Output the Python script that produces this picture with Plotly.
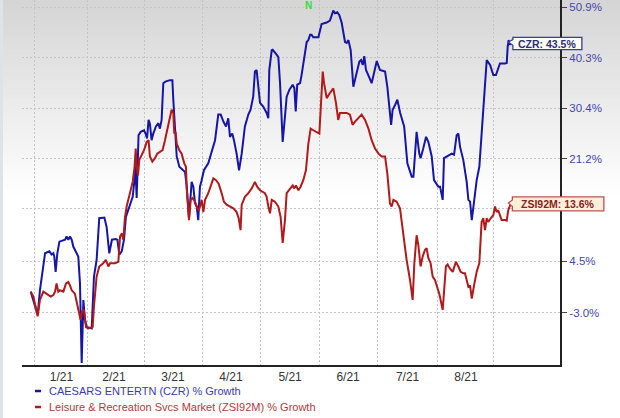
import math
import pandas as pd
import plotly.graph_objects as go

# ---------------- data (day offset from 2021-01-01, % growth) ----------------
czr_name = "CAESARS ENTERTN (CZR) % Growth"
czr_day = [-1.9, 1.8, 3.0, 5.7, 8.0, 9.2, 10.1, 10.6, 11.3, 12.2,
           13.3, 16.3, 17.1, 18.0, 18.9, 19.8, 20.7, 23.3, 24.2, 25.1,
           26.0, 26.8, 27.7, 30.4, 31.6, 33.0, 34.4, 37.1, 38.3, 39.7,
           41.1, 43.1, 44.0, 45.0, 46.3, 47.5, 48.5, 49.2, 51.0, 52.1,
           53.0, 53.5, 54.2, 54.7, 55.2, 56.3, 58.1, 58.9, 59.7, 60.5,
           61.2, 62.1, 63.0, 64.4, 65.7, 66.5, 67.4, 68.3, 69.4, 71.8,
           73.1, 73.6, 74.5, 75.4, 76.8, 79.8, 80.7, 81.9, 83.3, 84.2,
           85.1, 86.0, 86.8, 87.7, 88.6, 89.8, 92.1, 93.9, 95.7, 97.4,
           98.7, 100.1, 101.5, 102.7, 103.6, 104.8, 105.7, 107.1, 108.4, 109.8,
           111.5, 113.3, 114.5, 115.9, 116.8, 117.7, 118.6, 119.5, 121.2, 123.0,
           123.9, 124.4, 125.7, 126.2, 127.9, 129.2, 130.1, 131.0, 131.5, 132.7,
           133.6, 135.0, 136.8, 137.7, 138.4, 139.2, 140.7, 141.5, 142.4, 143.3,
           144.2, 145.1, 146.0, 146.8, 147.7, 150.4, 151.3, 152.1, 154.8, 156.5,
           157.4, 158.3, 159.2, 160.4, 161.5, 162.7, 164.5, 165.4, 166.3, 167.5,
           168.9, 169.8, 170.7, 172.1, 173.0, 173.9, 174.7, 175.6, 176.8, 178.6,
           181.3, 183.0, 185.7, 186.9, 188.9, 189.7, 191.0, 192.2, 193.7, 195.8,
           197.5, 199.8, 200.7, 202.4, 203.8, 204.5, 205.9, 207.4, 208.6, 210.4,
           211.6, 213.9, 214.8, 216.2, 216.9, 218.3, 221.0, 222.2, 223.6, 224.5,
           225.4, 227.1, 228.9, 229.8, 230.7, 231.6, 232.8, 234.2, 235.6, 236.5,
           237.7, 238.6, 239.5, 241.3, 243.0, 244.4, 245.7, 246.5, 249.2, 250.1,
           250.6, 251.1, 251.7, 252.3]
czr_pct = [0.0, -3.3, 0.2, 5.7, 6.0, 5.5, 5.7, 5.2, 2.9, 5.7,
           7.5, 7.8, 8.3, 7.8, 8.3, 7.8, 6.7, 5.2, 1.2, -9.8,
           -1.2, -4.0, -5.0, -5.2, 2.2, 4.7, 11.2, 11.3, 9.8, 5.7,
           7.8, 7.9, 7.8, 5.5, 6.0, 7.8, 11.4, 12.0, 13.6, 14.7,
           17.5, 19.8, 14.5, 19.8, 25.4, 26.0, 26.3, 25.7, 24.8, 28.2,
           27.5, 24.5, 25.7, 27.0, 27.6, 26.6, 28.2, 35.2, 35.5, 35.8,
           35.8, 32.0, 26.3, 21.6, 19.8, 18.9, 16.4, 11.2, 17.2, 16.4,
           13.6, 13.1, 10.9, 16.4, 17.5, 19.2, 20.4, 22.4, 24.5, 29.2,
           29.2, 27.9, 27.0, 28.5, 25.1, 25.7, 24.5, 22.1, 19.2, 22.1,
           27.0, 29.2, 30.1, 32.6, 37.5, 37.8, 34.5, 31.4, 30.7, 29.5,
           28.5, 37.8, 41.8, 41.9, 41.1, 40.4, 35.2, 26.0, 24.2, 28.8,
           32.6, 33.9, 34.9, 34.2, 29.8, 34.9, 35.2, 36.8, 39.1, 41.1,
           43.5, 43.9, 45.0, 45.0, 44.5, 44.5, 45.9, 47.3, 47.6, 48.0,
           49.1, 50.2, 49.6, 49.8, 49.2, 47.6, 43.5, 43.3, 43.9, 41.8,
           34.5, 35.8, 37.5, 39.5, 39.8, 38.8, 40.6, 37.8, 36.8, 35.2,
           39.6, 37.8, 37.5, 34.5, 27.3, 30.1, 31.0, 32.0, 29.5, 27.0,
           20.4, 18.1, 18.1, 26.0, 22.1, 21.3, 23.0, 25.1, 24.2, 21.6,
           17.5, 16.4, 16.4, 14.2, 21.3, 21.6, 22.1, 21.9, 25.4, 25.7,
           23.3, 21.0, 17.2, 14.2, 13.9, 10.9, 13.9, 17.5, 19.8, 23.9,
           30.1, 33.9, 39.8, 38.8, 36.8, 36.8, 38.5, 39.1, 39.1, 39.2,
           42.5, 43.9, 42.9, 43.5]

zsi_name = "Leisure & Recreation Svcs Market (ZSI92M) % Growth"
zsi_day = [-1.9, -0.5, 1.8, 3.0, 4.8, 6.5, 8.7, 10.1, 11.0, 11.8,
           12.7, 13.6, 15.4, 16.8, 18.0, 18.9, 19.8, 21.5, 22.4, 23.8,
           24.5, 25.3, 26.3, 27.4, 28.6, 30.9, 31.6, 33.0, 34.4, 36.5,
           37.9, 39.2, 40.1, 42.7, 44.5, 45.4, 46.4, 47.1, 48.0, 48.9,
           50.7, 52.1, 53.1, 53.7, 54.2, 54.9, 55.6, 56.8, 58.1, 59.5,
           60.5, 61.2, 62.5, 63.9, 65.1, 66.5, 67.9, 69.2, 70.4, 71.8,
           72.7, 73.6, 74.1, 74.8, 75.4, 76.8, 78.0, 79.4, 80.3, 80.7,
           81.2, 81.9, 82.8, 83.8, 85.1, 86.3, 87.2, 88.6, 89.5, 90.4,
           92.1, 93.4, 94.8, 96.2, 97.6, 99.2, 100.4, 101.8, 103.6, 105.4,
           107.1, 108.2, 109.2, 109.8, 111.5, 113.3, 115.1, 116.8, 118.0, 119.5,
           122.1, 123.0, 123.9, 124.8, 125.7, 127.4, 129.2, 130.4, 131.5, 132.7,
           133.6, 135.0, 136.8, 137.5, 138.5, 139.8, 141.0, 142.4, 143.8, 145.1,
           146.3, 147.7, 149.5, 150.9, 151.6, 152.7, 153.4, 154.8, 156.5, 158.3,
           159.7, 160.9, 161.8, 163.6, 165.4, 167.1, 168.5, 169.8, 171.5, 173.3,
           175.1, 176.9, 178.6, 180.4, 182.2, 183.9, 185.7, 186.9, 188.3, 189.2,
           190.1, 191.8, 193.6, 195.0, 196.3, 197.1, 198.9, 200.3, 201.2, 202.4,
           203.3, 204.5, 205.6, 206.8, 207.7, 208.6, 209.8, 210.9, 212.1, 213.0,
           214.4, 216.2, 216.9, 217.9, 218.8, 220.0, 221.5, 223.2, 224.5, 225.7,
           227.1, 228.0, 228.9, 229.8, 230.7, 231.6, 232.8, 234.2, 235.6, 236.8,
           237.7, 238.6, 239.5, 240.3, 241.6, 243.0, 243.9, 244.8, 245.6, 246.5,
           247.4, 249.2, 250.1, 250.9, 251.8, 252.3]
zsi_pct = [0.0, -0.7, -3.5, -1.2, 0.0, -0.3, -0.7, -0.5, 0.0, 1.2,
           0.0, 0.2, 0.0, 1.2, 1.4, 0.9, 0.2, -0.3, -1.4, -2.8,
           -4.0, -2.8, -2.6, -5.0, -5.2, -5.0, -2.1, 2.2, 3.7, 4.2,
           4.7, 3.7, 4.2, 4.2, 4.4, 8.3, 8.8, 7.8, 11.3, 13.1,
           15.3, 17.2, 19.8, 23.0, 19.8, 18.3, 21.0, 21.8, 22.7, 24.2,
           24.5, 21.6, 20.7, 21.3, 22.1, 22.4, 22.7, 24.5, 26.6, 29.2,
           30.1, 29.5, 25.7, 26.0, 23.9, 22.7, 22.1, 20.4, 19.8, 16.1,
           13.1, 10.9, 14.2, 14.5, 13.9, 12.8, 12.5, 14.2, 12.2, 14.2,
           15.3, 16.4, 17.8, 17.5, 16.9, 15.3, 13.9, 13.4, 13.1, 12.8,
           12.2, 11.2, 9.3, 13.4, 14.7, 15.3, 16.1, 17.2, 16.4, 15.8,
           15.3, 14.7, 13.1, 12.0, 14.2, 13.9, 13.1, 11.4, 7.3, 10.9,
           15.3, 15.8, 16.6, 16.1, 16.6, 15.8, 16.4, 17.5, 19.2, 23.9,
           26.6, 26.3, 26.0, 25.7, 30.1, 37.5, 35.2, 32.3, 33.3, 34.2,
           31.4, 28.2, 29.5, 29.5, 29.5, 29.2, 27.3, 27.9, 28.5, 29.2,
           28.2, 26.6, 24.5, 23.0, 22.1, 21.6, 21.6, 18.6, 13.6, 13.1,
           14.2, 13.9, 12.8, 9.3, 6.2, 4.7, 1.7, -1.2, 4.2, 8.5,
           7.0, 3.7, 5.2, 6.2, 6.5, 5.0, 4.2, 2.2, 1.7, 0.9,
           -0.3, -2.6, 0.7, 3.7, 4.0, 3.4, 2.9, 4.4, 3.7, 2.9,
           2.7, 2.7, 1.7, 0.7, 0.9, -1.0, 0.9, 2.9, 4.2, 10.6,
           11.2, 9.3, 11.2, 10.6, 11.2, 11.7, 13.1, 12.2, 12.5, 11.7,
           10.9, 10.9, 10.8, 12.5, 13.3, 13.6]

month_labels = ["1/21", "2/21", "3/21", "4/21", "5/21", "6/21", "7/21", "8/21"]
month_label_day = [14.4, 42.2, 73.4, 104.1, 135.4, 166.1, 197.6, 228.5]
month_grid_day = [0, 28.3, 58.1, 88.9, 120.0, 150.9, 181.8, 213.6, 243.0]
y_tick_pct = [-3.0, 4.5, 12.7, 21.2, 30.4, 40.3, 50.9]
y_tick_text = ["-3.0%", "4.5%", "12.7%", "21.2%", "30.4%", "40.3%", "50.9%"]
news_day = 145.4
news_text = "N"

# ---------------- helpers ----------------
START = pd.Timestamp("2021-01-01")


def to_dates(days):
    return [START + pd.Timedelta(days=float(d)) for d in days]


def to_ratio(pcts):
    return [1 + p / 100.0 for p in pcts]


BLUE = "#1616a6"
RED = "#b01a1a"
FONT = "Liberation Sans, Arial, sans-serif"

W, H = 620, 418
ML, MR, MT, MB = 22, 60, 0, 53
PW, PH = W - ML - MR, H - MT - MB

y_lo, y_hi = -0.046118, 0.18326   # log10 range
x_lo_day, x_hi_day = -6.5, 278.3
x_range = to_dates([x_lo_day, x_hi_day])


def paper_y(pct):
    return (math.log10(1 + pct / 100.0) - y_lo) / (y_hi - y_lo)


def paper_x(day):
    return (day - x_lo_day) / (x_hi_day - x_lo_day)


# the 12.7% label sits under the ZSI92M callout in the reference
shown_tick_text = [t if abs(p - zsi_pct[-1]) > 3 else "" for p, t in zip(y_tick_pct, y_tick_text)]

fig = go.Figure()
fig.add_trace(go.Scatter(x=to_dates(czr_day), y=to_ratio(czr_pct), mode="lines",
                         name=czr_name, line=dict(color=BLUE, width=2),
                         showlegend=False, hoverinfo="skip"))
fig.add_trace(go.Scatter(x=to_dates(zsi_day), y=to_ratio(zsi_pct), mode="lines",
                         name=zsi_name, line=dict(color=RED, width=2),
                         showlegend=False, hoverinfo="skip"))

shapes = []
# background gradient (grey at top fading to white)
n_band = 40
grad_px = 200
x0p, x1p = -ML / PW, (W - ML) / PW
for i in range(n_band):
    t = i / (n_band - 1)
    c = int(round(213 + (255 - 213) * t))
    top = 1 - (i * grad_px / n_band) / PH
    bot = 1 - ((i + 1) * grad_px / n_band) / PH
    shapes.append(dict(type="rect", xref="paper", yref="paper", x0=x0p, x1=x1p,
                       y0=bot, y1=top + (0.02 if i == 0 else 0.002),
                       fillcolor=f"rgb({c},{c},{c})", line=dict(width=0), layer="below"))
# left border strip
shapes.append(dict(type="rect", xref="paper", yref="paper", x0=x0p, x1=x0p + 3 / PW,
                   y0=-MB / PH, y1=1.02, fillcolor="#dde3ea", line=dict(width=0), layer="below"))

# callouts (paper-referenced so they are not clipped at the axis)
czr_px, czr_py = paper_x(czr_day[-1]), paper_y(czr_pct[-1])
zsi_px, zsi_py = paper_x(zsi_day[-1]), paper_y(zsi_pct[-1])
shapes.append(dict(type="path", xref="paper", yref="paper", xsizemode="pixel", ysizemode="pixel",
                   xanchor=czr_px, yanchor=czr_py,
                   path="M 2,4.6 L 71,4.6 L 71,-7.6 L 2,-7.6 L 2,-3.3 L -2.5,0 L 2,2.4 Z",
                   fillcolor="#fffff0", line=dict(color="#3a3aa8", width=1.3)))
shapes.append(dict(type="path", xref="paper", yref="paper", xsizemode="pixel", ysizemode="pixel",
                   xanchor=zsi_px, yanchor=zsi_py,
                   path="M 1.5,6.7 L 93,6.7 L 93,-7.3 L 1.5,-7.3 L 1.5,-3 L -2.5,0.5 L 1.5,3.5 Z",
                   fillcolor="#fcf0da", line=dict(color="#c05050", width=1.3)))

# legend dashes
for py, col in [(391, BLUE), (407, RED)]:
    yy = (PH - (py - MT)) / PH
    shapes.append(dict(type="line", xref="paper", yref="paper",
                       x0=(35 - ML) / PW, x1=(41 - ML) / PW, y0=yy, y1=yy,
                       line=dict(color=col, width=2.5)))

annotations = [
    dict(x=czr_px, y=czr_py, xref="paper", yref="paper",
         text=f"<b>CZR: {czr_pct[-1]:.1f}%</b>", showarrow=False, xanchor="center",
         yanchor="middle", xshift=36.5, yshift=-1.6,
         font=dict(family=FONT, size=10.5, color="#2d2d7a")),
    dict(x=zsi_px, y=zsi_py, xref="paper", yref="paper",
         text=f"<b>ZSI92M: {zsi_pct[-1]:.1f}%</b>", showarrow=False, xanchor="center",
         yanchor="middle", xshift=47, yshift=-0.3,
         font=dict(family=FONT, size=10.5, color="#8a2020")),
    dict(x=to_dates([news_day])[0], y=(PH - 5) / PH, xref="x", yref="paper",
         text=f"<b>{news_text}</b>", showarrow=False, xanchor="center", yanchor="middle",
         font=dict(family=FONT, size=10, color="#33dd33")),
    dict(x=(47 - ML) / PW, y=(PH - 391) / PH, xref="paper", yref="paper",
         text=czr_name, showarrow=False, xanchor="left", yanchor="middle",
         font=dict(family=FONT, size=11, color="#3a3aaa")),
    dict(x=(47 - ML) / PW, y=(PH - 407) / PH, xref="paper", yref="paper",
         text=zsi_name, showarrow=False, xanchor="left", yanchor="middle",
         font=dict(family=FONT, size=11, color="#b03a3a")),
]

fig.update_layout(
    width=W, height=H,
    margin=dict(l=ML, r=MR, t=MT, b=MB, pad=0),
    paper_bgcolor="white", plot_bgcolor="rgba(0,0,0,0)",
    showlegend=False,
    shapes=shapes, annotations=annotations,
    xaxis=dict(type="date", range=x_range,
               tickmode="array", tickvals=to_dates(month_label_day), ticktext=month_labels,
               showgrid=False, zeroline=False,
               showline=True, linecolor="#222222", linewidth=2, ticks="",
               tickfont=dict(family=FONT, size=12, color="#333333"),
               minor=dict(tickmode="array", tickvals=to_dates(month_grid_day), showgrid=True,
                          gridcolor="#c4c4c4", griddash="2px,2px", gridwidth=1, ticks="")),
    yaxis=dict(type="log", range=[y_lo, y_hi], side="right",
               tickmode="array", tickvals=to_ratio(y_tick_pct), ticktext=shown_tick_text,
               showgrid=True, gridcolor="#c4c4c4", griddash="2px,2px", gridwidth=1,
               zeroline=False, showline=True, linecolor="#222222", linewidth=2,
               ticks="outside", ticklen=5, tickcolor="#444444", tickwidth=1,
               tickfont=dict(family=FONT, size=11.5, color="#4545b0")),
)

fig.write_html("out.html", config={"displayModeBar": False},
               post_script="document.body.style.margin='0px';document.body.style.overflow='hidden';")
